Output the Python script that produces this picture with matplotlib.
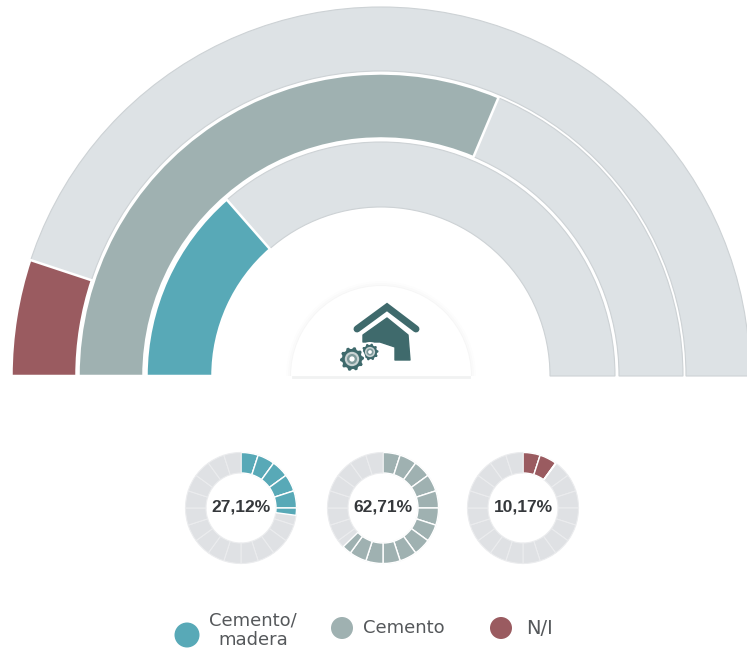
import numpy as np
import matplotlib
matplotlib.use('Agg')
import matplotlib.pyplot as plt
from matplotlib.patches import Wedge, Circle, Polygon

categories = ['Cemento/\nmadera', 'Cemento', 'N/I']
values = [27.12, 62.71, 10.17]
labels = ['27,12%', '62,71%', '10,17%']
colors = ['#58A9B7', '#9FB1B1', '#9A5B60']

GREY = '#DDE2E5'
GREY_EDGE = '#CDD2D5'
SMALL_GREY = '#DFE1E4'
ICON = '#3F6A6C'
TEXT = '#55585B'

W, H = 747, 648
n_seg = 20


def py(y):
    # picture rows run downwards, the axes run upwards
    return H - y


fig = plt.figure(figsize=(W / 100, H / 100), dpi=100)
ax = fig.add_axes([0, 0, 1, 1])
ax.set_xlim(0, W)
ax.set_ylim(0, H)
ax.axis('off')

# big half rings, inner to outer
cx, cy = 381, py(376)
ring_in = [169, 238, 305]
ring_out = [234, 302, 369]
for val, col, r0, r1 in zip(values, colors, ring_in, ring_out):
    split = 180 - 180 * val / 100
    ax.add_patch(Wedge((cx, cy), r1, 0, 180, width=r1 - r0, fc=GREY, ec=GREY_EDGE, lw=0.8))
    ax.add_patch(Wedge((cx, cy), r1 + 0.5, split, 180, width=r1 - r0 + 1, fc=col, ec='white', lw=1.8))

# house badge
for grow, a in zip([5, 3, 1], [0.006, 0.01, 0.015]):
    ax.add_patch(Wedge((cx, cy), 90 + grow, 0, 180, fc='black', ec='none', alpha=a))
ax.add_patch(Wedge((cx, cy), 90, 0, 180, fc='white', ec='none'))
ax.plot([cx - 88, cx + 88], [py(377), py(377)], color='#F1F2F2', lw=2)

ax.plot([357, 387, 416], [py(329), py(307), py(329)], color=ICON, lw=5,
        solid_capstyle='round', solid_joinstyle='miter')
body = [(387, 318), (408, 335), (410, 360), (395, 360), (395, 347), (380, 342), (363, 342), (363, 335)]
ax.add_patch(Polygon([(x, py(y)) for x, y in body], fc=ICON, ec=ICON, lw=1, joinstyle='round'))


def gear(x, y, r, teeth, z):
    ang = np.linspace(0, 2 * np.pi, teeth * 4, endpoint=False)
    rad = np.tile([r, r, r * 0.84, r * 0.84], teeth)
    ax.add_patch(Circle((x, py(y)), r + 1.5, fc='white', ec='none', zorder=z))
    ax.add_patch(Polygon(np.c_[x + rad * np.cos(ang), py(y) + rad * np.sin(ang)], fc=ICON, ec='none', zorder=z))
    ax.add_patch(Circle((x, py(y)), r * 0.6, fc='#C9D3D3', ec='none', zorder=z))
    ax.add_patch(Circle((x, py(y)), r * 0.42, fc='#7F9A9B', ec='none', zorder=z))
    ax.add_patch(Circle((x, py(y)), r * 0.22, fc='white', ec='none', zorder=z))


gear(370, 352, 8.5, 10, 5)
gear(352, 359, 12, 10, 6)

# small segmented donuts
donut_x = [241, 383, 523]
donut_y = py(508)
r_out, r_in = 55.5, 35
step = 360 / n_seg
for val, col, lab, dx in zip(values, colors, labels, donut_x):
    deg = 360 * val / 100
    for k in range(n_seg):
        t1 = 90 - k * step
        t0 = t1 - step
        ax.add_patch(Wedge((dx, donut_y), r_out, t0, t1, width=r_out - r_in,
                           fc=SMALL_GREY, ec='#EBECEE', lw=0.8))
        done = min(deg - k * step, step)
        if done > 0:
            ax.add_patch(Wedge((dx, donut_y), r_out, t1 - done, t1, width=r_out - r_in,
                               fc=col, ec='white', lw=1))
    ax.text(dx, donut_y + 1, lab, ha='center', va='center', fontsize=12.5, fontweight='bold',
            family='Liberation Sans', color='#35383B')

# legend
leg_x = [187, 342, 501]
leg_y = [635, 628, 628]
leg_r = [12.5, 11, 11]
text_x = [253, 404, 540]
text_y = [630, 628, 628]
for cat, col, lx, ly, lr, tx, ty in zip(categories, colors, leg_x, leg_y, leg_r, text_x, text_y):
    ax.add_patch(Circle((lx, py(ly)), lr, fc=col, ec='none'))
    ax.text(tx, py(ty), cat, ha='center', va='center', fontsize=13 if cat != 'N/I' else 14,
            family='DejaVu Sans', color=TEXT, linespacing=1.1)

fig.savefig('out.png', dpi=100, facecolor='white')
